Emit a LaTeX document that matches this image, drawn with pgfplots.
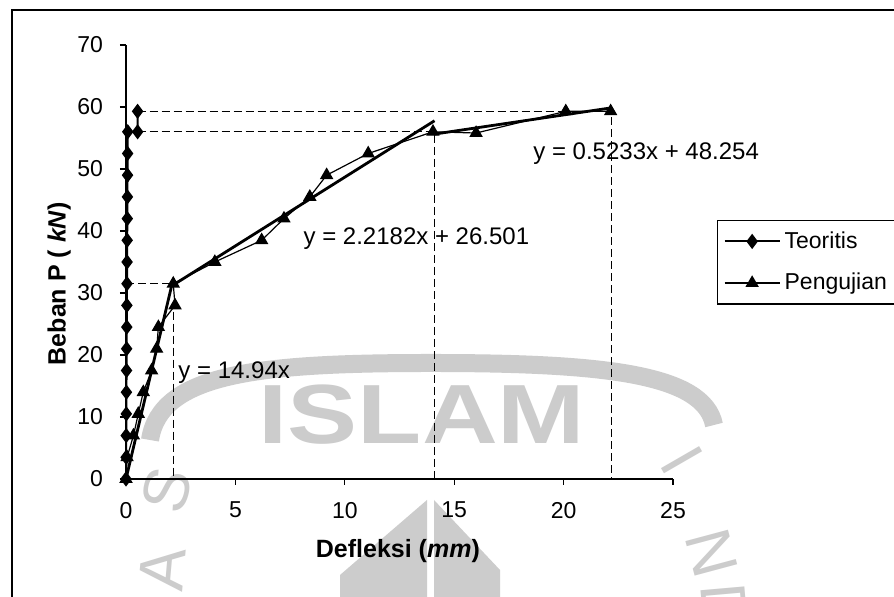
\documentclass[border=0pt]{standalone}
\usepackage{fontspec}
\setmainfont{Liberation Sans}
\usepackage{pgfplots}
\usepackage{pgfplotstable}
\pgfplotsset{compat=1.18}

% Theoretical load-deflection curve
\pgfplotstableread{
x y
0.000 0
0.005 3.5
0.010 7
0.015 10.5
0.020 14
0.025 17.5
0.030 21
0.035 24.5
0.040 28
0.045 31.5
0.050 35
0.055 38.5
0.060 42
0.065 45.5
0.070 49
0.075 52.5
0.080 56
0.530 56
0.530 59.3
}\teoritis

% Test results
\pgfplotstableread{
x y
0.00 0
0.05 3.5
0.34 7
0.56 10.5
0.79 14
1.17 17.5
1.40 21
1.48 24.5
2.24 28
2.16 31.5
4.06 35
6.20 38.5
7.22 42
8.40 45.5
9.17 49
11.07 52.5
14.03 56
16.00 55.8
20.10 59.3
22.15 59.3
}\pengujian

\begin{document}
\begin{tikzpicture}
\useasboundingbox (0,0) rectangle (447pt,298.5pt);
\clip (0,0) rectangle (447pt,298.5pt);
\fill[white] (0,0) rectangle (447pt,298.5pt);

% faint logo in the background
\begin{scope}[black!20]
  \draw[line width=9pt] (75pt,78.5pt) .. controls (80pt,112pt) and (130pt,117pt) .. (215.5pt,117pt)
        .. controls (300pt,117pt) and (352pt,112pt) .. (357pt,86pt);
  \node[font=\fontsize{42}{42}\bfseries\selectfont, xscale=1.25] at (211pt,91pt) {ISLAM};
  \node[font=\fontsize{32}{32}\selectfont, rotate=75] at (83.5pt,53.5pt) {S};
  \node[font=\fontsize{32}{32}\selectfont, rotate=85] at (81pt,14pt) {A};
  \node[font=\fontsize{32}{32}\selectfont, rotate=-60] at (341pt,68.5pt) {I};
  \node[font=\fontsize{32}{32}\selectfont, rotate=-75] at (356pt,22pt) {N};
  \node[font=\fontsize{32}{32}\selectfont, rotate=-85] at (362pt,-5pt) {D};
  \fill (213.5pt,48.5pt) -- (170pt,11pt) -- (170pt,-2pt) -- (213.5pt,-2pt) -- cycle;
  \fill (217pt,48.5pt) -- (250pt,13.5pt) -- (250pt,-2pt) -- (217pt,-2pt) -- cycle;
\end{scope}

% frame of the chart
\draw[line width=0.7pt] (6pt,-2pt) -- (6pt,293.5pt) -- (452pt,293.5pt);

\begin{axis}[
  at={(63pt,59pt)}, anchor=south west,
  scale only axis, width=273.5pt, height=217pt,
  xmin=0, xmax=25, ymin=0, ymax=70,
  axis lines=left, axis line style={-, line width=0.6pt},
  xtick={0,5,...,25}, ytick={0,10,...,70},
  tick align=outside, major tick length=3pt,
  tick style={black, line width=0.6pt},
  /pgf/number format/assume math mode=true,
  tick label style={font=\fontsize{11.5}{13}\selectfont},
  xticklabel style={yshift=-5pt},
  yticklabel style={xshift=-5pt},
  xlabel={\bfseries Defleksi (\textit{mm})},
  ylabel={\bfseries Beban P ( \textit{kN})},
  label style={font=\fontsize{12.5}{14}\selectfont},
  xlabel style={at={(axis description cs:0.497,-0.166)}, anchor=center},
  ylabel style={at={(axis description cs:-0.122,0.45)}, anchor=center},
  legend image code/.code={\draw[mark repeat=2,mark phase=2] plot coordinates {(0pt,0pt) (13.75pt,0pt) (27.5pt,0pt)};},
  legend cell align=left,
  legend style={at={(1.0805,0.5968)}, anchor=north west, draw=black, line width=0.6pt,
    font=\fontsize{11.5}{13}\selectfont, inner xsep=3pt, inner ysep=3.5pt, row sep=7pt,
    /tikz/every even column/.append style={column sep=2pt}},
  clip=false,
]
% guide lines
\addplot[forget plot, black, line width=0.6pt, dash pattern=on 4pt off 2pt] coordinates {(0,31.5) (2.16,31.5)};
\addplot[forget plot, black, line width=0.6pt, dash pattern=on 4pt off 2pt] coordinates {(2.16,27) (2.16,0)};
\addplot[forget plot, black, line width=0.6pt, dash pattern=on 4pt off 2pt] coordinates {(0.53,56) (14.1,56) (14.1,0)};
\addplot[forget plot, black, line width=0.6pt, dash pattern=on 4pt off 2pt] coordinates {(0.53,59.3) (22.2,59.3) (22.2,0)};

\addplot[black, line width=1pt, mark=diamond*, mark size=3pt, mark options={solid}] table {\teoritis};
\addlegendentry{Teoritis}
\addplot[black, line width=0.6pt, mark=triangle*, mark size=3.3pt, mark options={solid}] table {\pengujian};
\addlegendentry{Pengujian\hspace*{4pt}}

% linear fits
\addplot[forget plot, black, line width=1.4pt] coordinates {(0,0) (2.1,31.374)};
\addplot[forget plot, black, line width=1.4pt] coordinates {(2.1,31.159) (14.1,57.778)};
\addplot[forget plot, black, line width=1.4pt] coordinates {(14.1,55.633) (22.2,59.871)};

\node[anchor=west, font=\fontsize{12}{14}\selectfont, inner sep=0pt] at (axis cs:2.38,17.1) {y = 14.94x};
\node[anchor=west, font=\fontsize{12}{14}\selectfont, inner sep=0pt] at (axis cs:8.1,38.7) {y = 2.2182x + 26.501};
\node[anchor=west, font=\fontsize{12}{14}\selectfont, inner sep=0pt] at (axis cs:18.6,52.4) {y = 0.5233x + 48.254};
\end{axis}
\end{tikzpicture}
\end{document}
